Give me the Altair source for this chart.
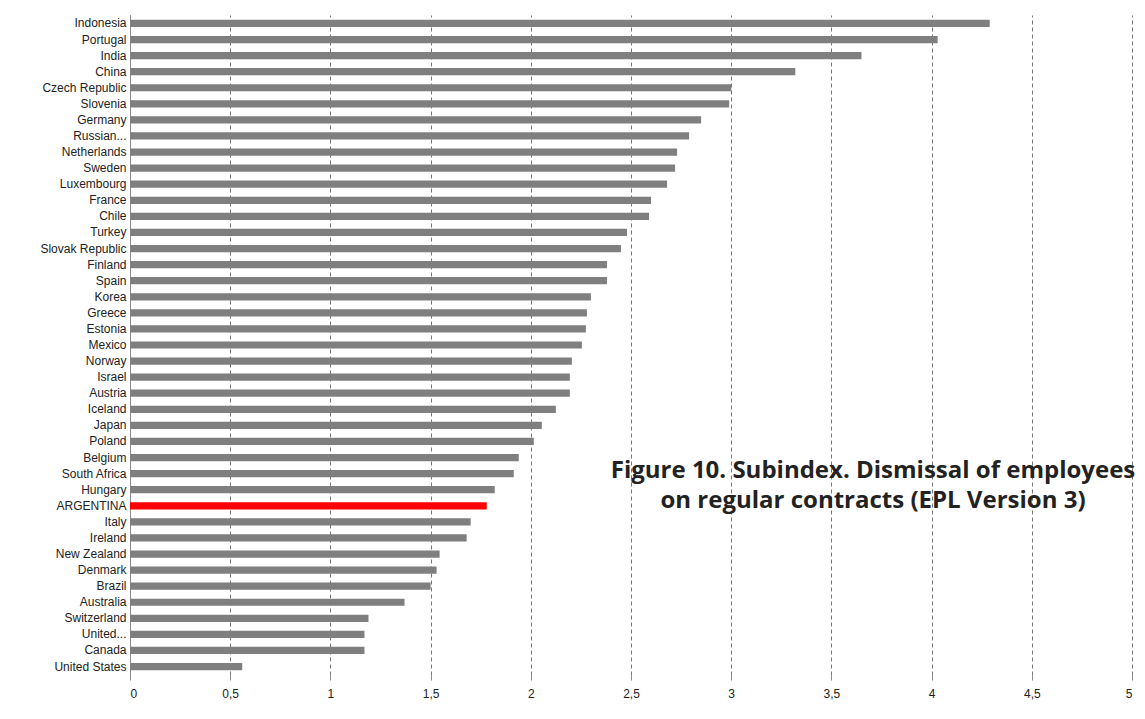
import pandas as pd
import altair as alt

countries = ["Indonesia", "Portugal", "India", "China", "Czech Republic", "Slovenia",
             "Germany", "Russian...", "Netherlands", "Sweden", "Luxembourg", "France",
             "Chile", "Turkey", "Slovak Republic", "Finland", "Spain", "Korea", "Greece",
             "Estonia", "Mexico", "Norway", "Israel", "Austria", "Iceland", "Japan",
             "Poland", "Belgium", "South Africa", "Hungary", "ARGENTINA", "Italy",
             "Ireland", "New Zealand", "Denmark", "Brazil", "Australia", "Switzerland",
             "United...", "Canada", "United States"]
values = [4.29, 4.03, 3.65, 3.32, 3.0, 2.99, 2.85, 2.79, 2.73, 2.72, 2.68, 2.6,
          2.59, 2.48, 2.45, 2.38, 2.38, 2.3, 2.28, 2.275, 2.255, 2.205, 2.195, 2.195,
          2.125, 2.055, 2.015, 1.94, 1.915, 1.82, 1.78, 1.7, 1.68, 1.545, 1.53, 1.5,
          1.37, 1.19, 1.17, 1.17, 0.56]
title_lines = ["Figure 10. Subindex. Dismissal of employees",
               "on regular contracts (EPL Version 3)"]

df = pd.DataFrame({"country": countries, "value": values})
df["hl"] = df["country"] == "ARGENTINA"

bars = alt.Chart(df).mark_bar().encode(
    y=alt.Y("country:N", sort=countries, title=None,
            scale=alt.Scale(paddingInner=0.55, paddingOuter=0.3),
            axis=alt.Axis(ticks=False, labelFontSize=12, labelColor="#222",
                          labelFont="Liberation Sans", domainColor="#888", labelPadding=4)),
    x=alt.X("value:Q", title=None, scale=alt.Scale(domain=[0, 5], nice=False),
            axis=alt.Axis(values=[0, 0.5, 1, 1.5, 2, 2.5, 3, 3.5, 4, 4.5, 5],
                          labelExpr="replace(format(datum.value, '~g'), '.', ',')",
                          grid=True, gridDash=[4, 3], gridColor="#777", domain=False,
                          tickColor="#888", labelFontSize=12, labelColor="#222",
                          labelFont="Liberation Sans", labelPadding=8)),
    color=alt.condition("datum.hl", alt.value("#ff0000"), alt.value("#7f7f7f")),
)


def note_line(text, y):
    return alt.Chart(pd.DataFrame({"t": [text]})).mark_text(
        fontSize=24, fontWeight="bold", font="Open Sans", color="#222", align="center"
    ).encode(x=alt.value(743), y=alt.value(y), text="t:N")


chart = (bars + note_line(title_lines[0], 456) + note_line(title_lines[1], 486)).properties(
    width=1002, height=660, autosize=alt.AutoSizeParams(type="none"),
    padding={"left": 122, "top": 7, "right": 5, "bottom": 40}
).configure_view(stroke=None)

chart.save("out.html", embed_options={"renderer": "svg", "actions": False})
